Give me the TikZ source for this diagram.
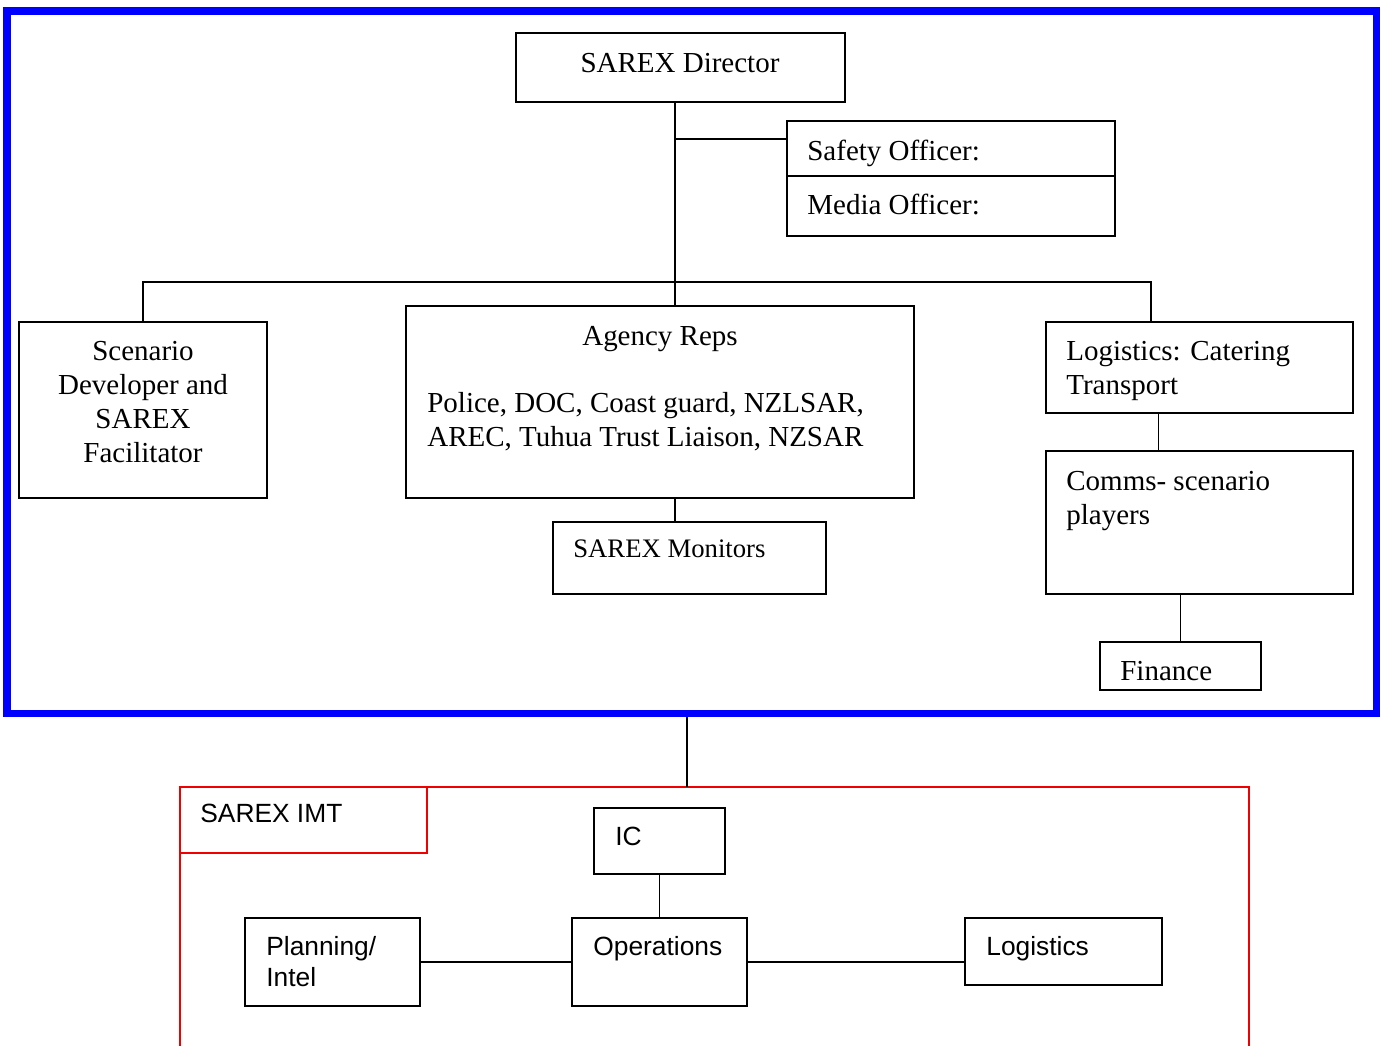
\documentclass[tikz,border=0pt]{standalone}
\usepackage{fontspec}
\setmainfont{Liberation Serif}
\setsansfont{Liberation Sans}
\usetikzlibrary{fit}
\definecolor{frameblue}{RGB}{0,0,255}
\definecolor{imtred}{RGB}{240,0,0}

\tikzset{
  box/.style={draw, line width=1pt, inner sep=0pt},
  redbox/.style={draw=imtred, line width=1pt, inner sep=0pt},
  txt/.style={inner sep=0pt, font=\fontsize{16.5}{19}\selectfont},
  stxt/.style={inner sep=0pt, font=\sffamily\fontsize{15}{17}\selectfont},
  link/.style={line width=1.1pt}
}

\begin{document}
\begin{tikzpicture}[x=0.02cm,y=-0.02cm]
                \useasboundingbox (0,0) rectangle (1381,1046);

                % Exercise control (blue frame)
                \node[draw=frameblue, line width=4pt, inner sep=0pt, fit={(7,11) (1376,713)}] (control) {};
                \node[box, fit={(516,33) (845,102)}] (director) {};
                \node[box, fit={(787,121) (1115,176)}] (safety) {};
                \node[box, fit={(787,176) (1115,236)}] (media) {};
                \node[box, fit={(19,322) (267,498)}] (scenario) {};
                \node[box, fit={(406,306) (914,498)}] (agency) {};
                \node[box, fit={(553,522) (826,594)}] (monitors) {};
                \node[box, fit={(1046,322) (1353,413)}] (logcat) {};
                \node[box, fit={(1046,451) (1353,594)}] (comms) {};
                \node[box, fit={(1100,642) (1261,690)}] (finance) {};

                \node[txt, anchor=base] at (680,72) {SAREX Director};
                \node[txt, anchor=base west] at (807,160) {Safety Officer:};
                \node[txt, anchor=base west] at (807,214) {Media Officer:};
                \node[txt, anchor=base] at (143,360) {Scenario};
                \node[txt, anchor=base] at (143,394) {Developer and};
                \node[txt, anchor=base] at (143,428) {SAREX};
                \node[txt, anchor=base] at (143,462) {Facilitator};
                \node[txt, anchor=base] at (660,345) {Agency Reps};
                \node[txt, anchor=base west] at (427,412) {Police, DOC, Coast guard, NZLSAR,};
                \node[txt, anchor=base west] at (427,446) {AREC, Tuhua Trust Liaison, NZSAR};
                \node[txt, anchor=base west, font=\fontsize{15.2}{18}\selectfont] at (573,557) {SAREX Monitors};
                \node[txt, anchor=base west] at (1066,360) {Logistics: Catering};
                \node[txt, anchor=base west] at (1066,394) {Transport};
                \node[txt, anchor=base west] at (1066,490) {Comms- scenario};
                \node[txt, anchor=base west] at (1066,524) {players};
                \node[txt, anchor=base west] at (1120,680) {Finance};

                % connectors inside the frame
                \coordinate (trunk) at (675,282);
                \coordinate (officers) at (675,139);
                \coordinate (rightarm) at (1151,282);
                \draw[link] (director.south -| trunk) -- (agency.north -| trunk);
                \draw[link] (officers) -- (officers -| safety.west);
                \draw[link] (scenario.north) -- (scenario.north |- trunk) -- (rightarm) -- (rightarm |- logcat.north);
                \draw[link] (agency.south -| trunk) -- (monitors.north -| trunk);
                \draw[link] ([xshift=-41*0.02cm]logcat.south) -- ([xshift=-41*0.02cm]logcat.south |- comms.north);
                \draw[link] (finance.north |- comms.south) -- (finance.north);

                % SAREX IMT (red, open at the bottom)
                \coordinate (imttop) at (687,787);
                \draw[imtred, line width=1pt] (180,1046) -- (180,787) -- (1249,787) -- (1249,1046);
                \node[redbox, fit={(180,787) (427,853)}] (imt) {};
                \node[box, fit={(594,808) (725,874)}] (ic) {};
                \node[box, fit={(572,918) (747,1006)}] (ops) {};
                \node[box, fit={(245,918) (420,1006)}] (planning) {};
                \node[box, fit={(965,918) (1162,985)}] (logistics) {};

                \node[stxt, anchor=base west] at (200,822) {SAREX IMT};
                \node[stxt, anchor=base west] at (615,845) {IC};
                \node[stxt, anchor=base west] at (593,955) {Operations};
                \node[stxt, anchor=base west] at (266,955) {Planning/};
                \node[stxt, anchor=base west] at (266,986) {Intel};
                \node[stxt, anchor=base west] at (986,955) {Logistics};

                \draw[link] (control.south -| imttop) -- (imttop);
                \draw[link] (ic.south) -- (ops.north);
                \draw[link] (planning.east) -- (ops.west);
                \draw[link] (ops.east) -- (ops.east -| logistics.west);
\end{tikzpicture}
\end{document}
